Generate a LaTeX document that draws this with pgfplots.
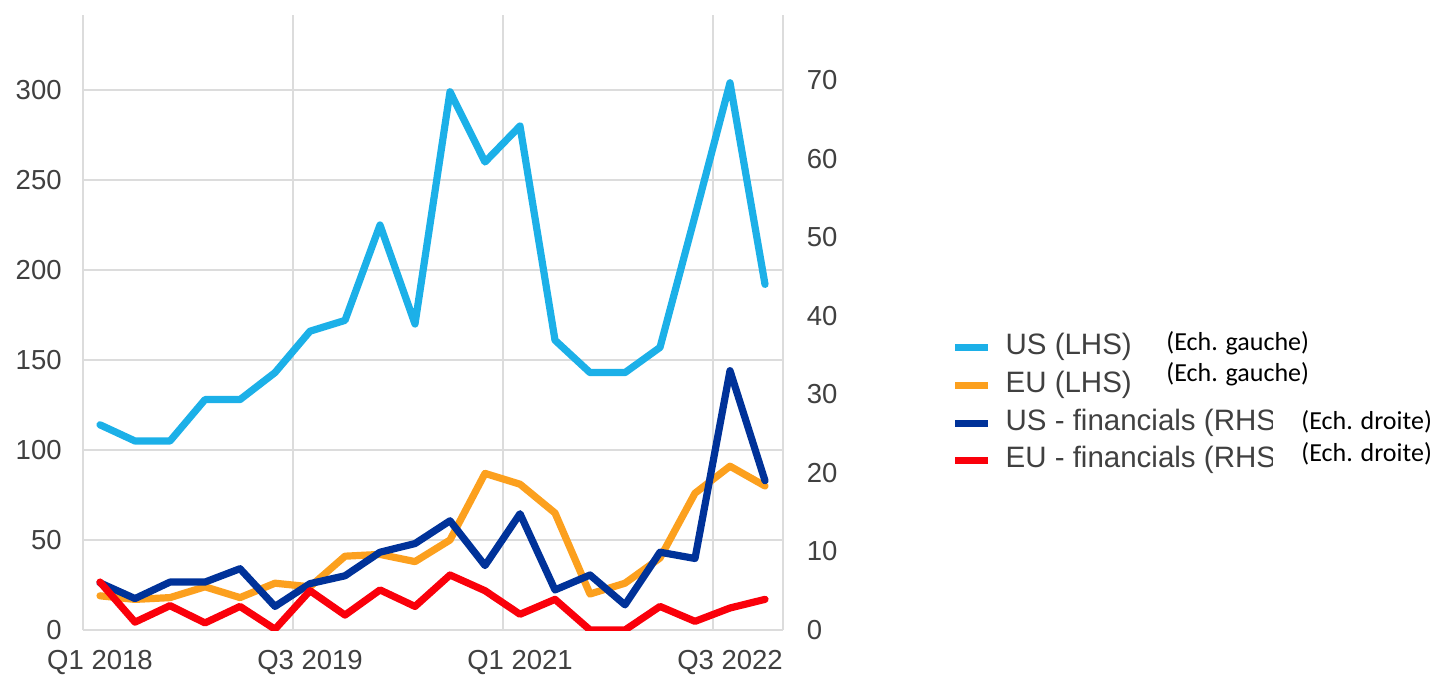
\documentclass[border=0pt]{standalone}
\usepackage{pgfplots}
\usepackage{pgfplotstable}
\pgfplotsset{compat=1.18}
\usepackage{fontspec}
\setmainfont{Liberation Sans}
\newfontfamily\calibri{Carlito}
\definecolor{uslight}{RGB}{28,176,232}
\definecolor{euorange}{RGB}{252,160,30}
\definecolor{usdark}{RGB}{0,50,153}
\definecolor{eured}{RGB}{250,0,10}
\definecolor{gridc}{RGB}{220,220,220}
\definecolor{tickc}{RGB}{64,64,64}

\pgfplotstableread{
i us eu usf euf
0 114 19 6.0 6.1
1 105 17 4.0 1.0
2 105 18 6.1 3.1
3 128 24 6.1 0.9
4 128 18 7.8 3.0
5 143 26 3.0 0.1
6 166 24 5.9 5.0
7 172 41 6.9 1.9
8 225 42 9.9 5.1
9 170 38 11.0 3.0
10 299 50 13.9 7.0
11 260 87 8.2 5.0
12 280 81 14.8 2.0
13 161 65 5.1 3.9
14 143 20 7.0 0.0
15 143 26 3.2 0.0
16 157 40 9.9 3.0
17 230 76 9.1 1.1
18 304 91 33.0 2.8
19 192 80 19.0 3.9
}\data

\begin{document}
\begin{tikzpicture}[x=1pt,y=1pt]
\path[use as bounding box] (0,0) rectangle (716.5,337);
\pgfplotsset{
  base/.style={
    scale only axis, width=350pt, height=307.5pt,
    at={(41.25pt,22pt)}, anchor=south west,
    xmin=-0.5, xmax=19.5, ymin=0,
    axis line style={draw=none},
    major tick length=0pt, minor tick length=0pt,
    tick style={draw=none},
    ticklabel style={font=\fontsize{13.75}{16}\selectfont, text=tickc, inner sep=0pt},
    /pgf/number format/assume math mode=true,
    every axis plot/.append style={line width=3.6pt, line join=round, line cap=round},
  }
}
\begin{axis}[base, ymax=341.67,
  ytick={0,50,...,300}, ymajorgrids,
  grid style={draw=gridc, line width=1pt},
  xtick={0,6,12,18}, xticklabels={Q1 2018, Q3 2019, Q1 2021, Q3 2022},
  extra x ticks={-0.5,5.5,11.5,17.5,19.5}, extra x tick labels={},
  extra x tick style={xmajorgrids=true, grid style={draw=gridc, line width=1pt}},
  yticklabel style={anchor=east, xshift=-10.25pt},
  xticklabel style={anchor=north, yshift=-10pt},
]
\addplot[uslight] table[x=i, y=us] {\data};
\addplot[euorange] table[x=i, y=eu] {\data};
\end{axis}
\begin{axis}[base, ymax=78.27,
  ytick={0,10,...,70}, xtick=\empty,
  yticklabel pos=right,
  yticklabel style={anchor=west, xshift=12pt},
  legend image code/.code={\draw[#1, line cap=butt, line width=3.5pt] (0pt,0pt) -- (16.5pt,0pt);},
  legend style={at={(1.241,0.4808)}, anchor=north west, draw=none, fill=none,
    inner sep=0pt, row sep=5.85pt, column sep=7pt,
    font=\fontsize{14.75}{17}\selectfont, text=tickc,
    nodes={inner sep=0pt, anchor=west, text height=10pt, text depth=3pt}},
  legend cell align=left,
]
\addlegendimage{uslight}
\addlegendimage{euorange}
\addplot[usdark] table[x=i, y=usf] {\data};
\addplot[eured] table[x=i, y=euf] {\data};
\legend{US (LHS), EU (LHS), US - financials (RHS), EU - financials (RHS)}
\end{axis}
\fill[white] (636.5,99.5) rectangle (649.5,134.5);
\begin{scope}[every node/.style={anchor=west, inner sep=0pt, font=\calibri\fontsize{13}{15}\selectfont, text=black}]
\node at (583,165.25) {(Ech. gauche)};
\node at (583,150) {(Ech. gauche)};
\node at (650.5,126.05) {(Ech. droite)};
\node at (650.5,110.2) {(Ech. droite)};
\end{scope}
\end{tikzpicture}
\end{document}
